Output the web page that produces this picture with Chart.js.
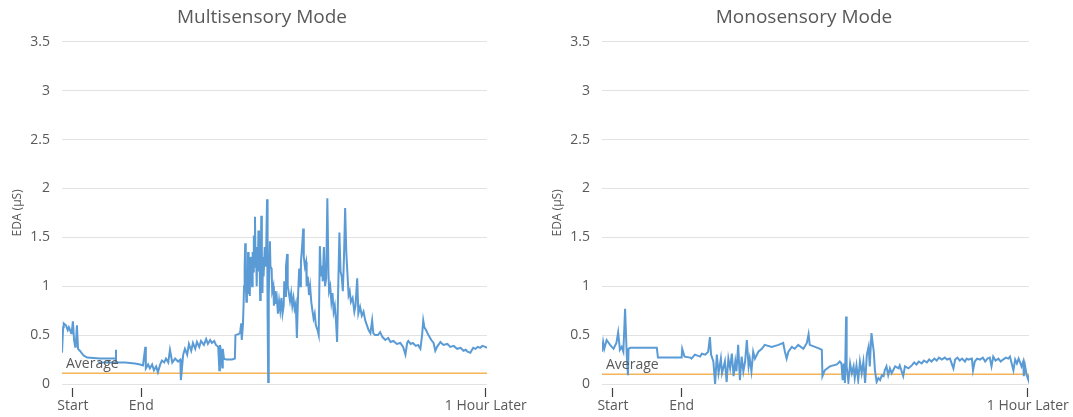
<!DOCTYPE html>
<html>
<head>
<meta charset="utf-8">
<script src="https://cdn.jsdelivr.net/npm/chart.js@4.4.1/dist/chart.umd.min.js"></script>
<style>
  html, body { margin: 0; padding: 0; background: #fff; }
  #wrap { position: relative; width: 1073px; height: 417px; }
  .box { position: absolute; top: 0; height: 417px; }
  #boxMulti { left: 0; width: 536px; }
  #boxMono { left: 536px; width: 537px; }
</style>
</head>
<body>
<div id="wrap">
  <div class="box" id="boxMulti"><canvas id="graficoMulti"></canvas></div>
  <div class="box" id="boxMono"><canvas id="graficoMono"></canvas></div>
</div>
<script>
// tempo em minutos desde o inicio da gravação
const tempoMulti = [
  0, 0.2, 0.3, 0.7, 1.0, 1.2, 1.6, 1.7, 1.9, 2.1,
  2.3, 2.4, 2.6, 2.8, 3.1, 3.5, 3.8, 4.4, 6.6, 8.9,
  9.4, 9.4, 9.4, 6.3, 11.0, 12.7, 13.6, 14.1, 14.5, 14.6,
  15.0, 15.3, 15.7, 16.0, 16.4, 16.7, 17.1, 17.4, 17.8, 18.1,
  18.5, 18.8, 19.2, 19.7, 20.2, 20.6, 20.7, 21.1, 21.4, 21.8,
  22.1, 22.5, 22.8, 23.2, 23.5, 23.9, 24.2, 24.7, 25.1, 25.4,
  25.8, 26.1, 26.5, 26.8, 27.2, 27.4, 27.5, 27.7, 27.9, 28.0,
  28.2, 28.6, 29.6, 30.1, 30.2, 30.7,
  31.0, 31.2, 31.3, 31.5, 31.6, 31.7, 31.8, 31.9, 32.0, 32.1,
  32.2, 32.3, 32.4, 32.5, 32.6, 32.7, 32.8, 32.9, 33.0, 33.1,
  33.2, 33.3, 33.4, 33.5, 33.6, 33.7, 33.8, 33.9, 34.0, 34.1,
  34.2, 34.3, 34.4, 34.5, 34.6, 34.7, 34.8, 34.9, 35.0, 35.1,
  35.3, 35.5, 35.7, 35.8, 35.9, 36.0, 36.2, 36.3, 36.5, 36.6,
  36.8, 36.9, 37.1, 37.2, 37.4, 37.6, 37.8, 38.0, 38.2, 38.4,
  38.6, 38.7, 38.9, 39.0, 39.2, 39.3, 39.5, 39.7, 39.9, 40.1,
  40.3, 40.5, 40.7, 40.9, 41.1, 41.3, 41.5, 41.6, 41.8, 42.0,
  42.1, 42.3, 42.5, 42.6, 42.8, 43.0, 43.2, 43.4, 43.6, 43.8,
  44.0, 44.2, 44.5, 44.7, 44.9, 45.1, 45.3, 45.4, 45.6, 45.8,
  46.0, 46.2, 46.4, 46.5, 46.7, 46.9, 47.1, 47.3, 47.5, 47.7,
  47.9, 48.1, 48.3, 48.5, 48.7, 48.9, 49.1, 49.3, 49.5, 49.7,
  49.9, 50.1, 50.3, 50.6, 50.9, 51.1, 51.4, 51.6, 51.9, 52.2,
  52.5, 52.8, 53.1, 53.4, 53.7, 54.0, 54.2, 54.5,
  55.0, 55.4, 55.8, 56.3, 56.8, 57.2, 57.7, 58.3, 58.9, 59.4,
  59.8, 60.1, 60.3, 60.7, 61.1, 61.6, 62.0, 62.4, 62.7, 62.9,
  63.1, 63.4, 63.8, 64.3, 64.7, 65.0, 65.3, 65.9, 66.4, 67.1,
  67.6, 68.2, 68.8, 69.4, 69.9, 70.3, 70.6, 71.1, 71.4, 71.6,
  72.0, 72.4, 72.8, 73.2, 73.7, 74.0];
const edaMulti = [
  0.32, 0.58, 0.62, 0.6, 0.55, 0.58, 0.52, 0.54, 0.64, 0.45,
  0.38, 0.4, 0.6, 0.36, 0.34, 0.31, 0.29, 0.27, 0.26, 0.26,
  0.26, 0.35, 0.22, 0.22, 0.22, 0.21, 0.2, 0.19, 0.38, 0.16,
  0.2, 0.16, 0.2, 0.14, 0.18, 0.12, 0.2, 0.24, 0.22, 0.26,
  0.22, 0.35, 0.22, 0.26, 0.23, 0.25, 0.04, 0.3, 0.36, 0.3,
  0.41, 0.34, 0.42, 0.36, 0.43, 0.38, 0.44, 0.4, 0.46, 0.41,
  0.45, 0.42, 0.44, 0.4, 0.38, 0.14, 0.4, 0.33, 0.17, 0.36,
  0.26, 0.25, 0.25, 0.26, 0.5, 0.51,
  0.52, 0.62, 0.45, 0.6, 0.78, 1.0, 1.2, 1.44, 1.05, 0.84,
  1.1, 0.95, 1.35, 0.92, 1.25, 0.9, 1.3, 1.05, 1.2, 1.0,
  1.35, 1.15, 1.52, 1.2, 1.71, 1.25, 1.35, 1.0, 1.4, 1.15,
  1.57, 1.2, 1.3, 0.86, 1.25, 1.72, 1.1, 0.93, 1.3, 1.1,
  1.4, 1.2, 1.89, 0.7, 0.02, 0.9, 1.46, 1.2, 1.18, 0.95,
  1.0, 0.8, 0.95, 0.82, 0.88, 0.72, 0.85, 0.75, 0.88, 0.72,
  0.8, 1.05, 0.9, 1.2, 1.33, 1.0, 0.93, 0.85, 0.93, 0.8,
  0.88, 0.77, 0.82, 0.47, 0.9, 1.18, 1.0, 1.25, 1.4, 1.59,
  1.3, 1.2, 1.25, 1.0, 1.1, 0.91, 1.0, 0.84, 0.75, 0.67,
  0.72, 0.6, 0.55, 0.5, 1.41, 1.1, 1.21, 1.05, 1.4, 1.0,
  1.08, 1.9, 1.13, 0.95, 1.0, 0.84, 0.93, 0.74, 0.8, 0.65,
  0.43, 1.0, 1.55, 1.15, 1.1, 0.95, 1.3, 1.8, 1.35, 1.13,
  0.91, 0.95, 0.84, 0.88, 0.74, 0.8, 1.08, 0.72, 0.79, 0.7,
  0.74, 0.65, 0.6, 0.55, 0.52, 0.65, 0.52, 0.5,
  0.5, 0.53, 0.48, 0.45, 0.47, 0.43, 0.44, 0.41, 0.42, 0.38,
  0.3, 0.42, 0.44, 0.41, 0.42, 0.39, 0.4, 0.36, 0.5, 0.65,
  0.58, 0.55, 0.5, 0.45, 0.42, 0.34, 0.38, 0.43, 0.4, 0.41,
  0.38, 0.39, 0.36, 0.37, 0.34, 0.35, 0.33, 0.32, 0.35, 0.37,
  0.36, 0.38, 0.37, 0.39, 0.38, 0.37];

const tempoMono = [
  0, 0.2, 0.4, 0.8, 1.4, 2.0, 2.5, 2.8, 3.1, 3.4,
  3.7, 4.0, 4.3, 4.5, 4.6, 4.9, 9.5, 9.7, 13.8, 13.9,
  14.3, 15.3, 15.5, 16.1, 17.0, 17.3, 17.9, 18.4, 18.7, 18.9,
  19.3, 19.6, 19.9, 20.2, 20.6, 20.8, 21.3, 21.6, 21.9, 22.2,
  22.5, 22.8, 23.1, 23.3, 23.6, 23.9, 24.2, 24.5, 24.8, 25.1,
  25.4, 25.6, 25.9, 26.2, 26.5, 27.1, 27.7, 28.2, 29.4, 30.6,
  31.4, 31.7, 32.0, 32.3, 32.9, 33.4, 34.0, 34.9, 35.5, 35.8,
  36.0, 36.9, 37.8, 38.1, 38.2, 38.6, 39.5, 40.7, 41.2, 41.5,
  41.7, 41.9, 42.1, 42.3, 42.4, 42.7, 43.0, 43.3, 43.6, 43.8,
  44.1, 44.4, 44.7, 45.0, 45.3, 45.6, 45.9, 46.2, 46.4, 46.7,
  46.9, 47.1, 47.3, 47.6, 47.9, 48.2, 48.5, 48.8, 49.0, 49.3,
  49.6, 49.9, 50.2, 50.8, 51.4, 51.6, 52.2, 52.5, 53.1, 53.7,
  54.1, 54.5, 54.9, 55.4, 55.8, 56.3, 56.7, 57.1, 57.6, 58.0,
  58.4, 58.9, 59.4, 59.8, 60.3, 60.9, 61.2, 61.6, 62.0, 62.4,
  62.9, 63.2, 63.5, 64.1, 64.3, 64.6, 65.0, 65.5, 66.0, 66.4,
  66.8, 67.2, 67.5, 67.8, 68.2, 68.7, 69.1, 69.5, 70.0, 70.4,
  70.7, 71.0, 71.3, 71.6, 71.9, 72.2, 72.4, 72.7, 73.0, 73.1,
  73.3, 73.6, 73.9, 74.0];
const edaMono = [
  0.33, 0.43, 0.36, 0.45, 0.4, 0.36, 0.42, 0.53, 0.35, 0.38,
  0.33, 0.77, 0.28, 0.09, 0.36, 0.37, 0.37, 0.27, 0.27, 0.36,
  0.28, 0.27, 0.26, 0.3, 0.28, 0.31, 0.3, 0.33, 0.48, 0.3,
  0.23, 0.0, 0.3, 0.11, 0.26, 0.11, 0.23, 0.02, 0.26, 0.16,
  0.31, 0.08, 0.23, 0.13, 0.4, 0.04, 0.28, 0.13, 0.23, 0.45,
  0.18, 0.26, 0.13, 0.33, 0.26, 0.33, 0.36, 0.4, 0.38, 0.4,
  0.42, 0.33, 0.26, 0.33, 0.38, 0.36, 0.4, 0.36, 0.42, 0.51,
  0.4, 0.38, 0.36, 0.35, 0.08, 0.14, 0.18, 0.2, 0.23, 0.21,
  0.04, 0.21, 0.01, 0.69, 0.18, 0.02, 0.21, 0.11, 0.18, 0.06,
  0.19, 0.04, 0.23, 0.11, 0.23, 0.01, 0.3, 0.38, 0.18, 0.52,
  0.42, 0.33, 0.14, 0.02, 0.06, 0.04, 0.09, 0.08, 0.14, 0.18,
  0.09, 0.16, 0.11, 0.18, 0.16, 0.19, 0.08, 0.18, 0.16, 0.19,
  0.22, 0.2, 0.23, 0.21, 0.24, 0.22, 0.25, 0.23, 0.26, 0.24,
  0.27, 0.25, 0.27, 0.25, 0.26, 0.16, 0.25, 0.27, 0.24, 0.26,
  0.23, 0.26, 0.25, 0.26, 0.14, 0.23, 0.26, 0.25, 0.27, 0.23,
  0.26, 0.27, 0.18, 0.28, 0.24, 0.26, 0.23, 0.25, 0.27, 0.26,
  0.28, 0.21, 0.14, 0.25, 0.21, 0.26, 0.23, 0.18, 0.23, 0.08,
  0.19, 0.09, 0.04, 0.09];

// media de cada modo
const mediaMulti = 0.11;
const mediaMono = 0.1;

// marcas do eixo x
const marcasTempo = [1.9, 13.8, 73.8];
const rotulosTempo = ["Start", "End", "1 Hour Later"];

const corTexto = "#595959";
Chart.defaults.font.family = "'Open Sans', sans-serif";

// escreve "Average" em cima da linha da media
const rotuloMedia = {
  id: "rotuloMedia",
  afterDatasetsDraw(chart, args, opts) {
    const { ctx, scales } = chart;
    const x = scales.x.getPixelForValue(scales.x.min) + 4;
    const y = scales.y.getPixelForValue(opts.valor);
    ctx.save();
    ctx.font = "14px 'Open Sans', sans-serif";
    ctx.fillStyle = corTexto;
    ctx.textBaseline = "alphabetic";
    ctx.fillText(opts.texto, x, y - 5);
    ctx.restore();
  },
};

function juntar(tempos, valores) {
  return tempos.map((t, i) => ({ x: t, y: valores[i] }));
}

function criarGrafico(id, titulo, tempos, valores, media, larguraEixo, folga, paddingDireita, paddingTitulo) {
  return new Chart(document.getElementById(id), {
    type: "line",
    data: {
      datasets: [
        {
          label: "EDA",
          data: juntar(tempos, valores),
          borderColor: "#5b9bd5",
          borderWidth: 2,
          pointRadius: 0,
          tension: 0,
        },
        {
          label: "Average",
          data: [{ x: 0, y: media }, { x: 74, y: media }],
          borderColor: "#f4b45a",
          borderWidth: 1.5,
          pointRadius: 0,
        },
      ],
    },
    options: {
      responsive: true,
      maintainAspectRatio: false,
      animation: false,
      events: [],
      layout: { padding: { left: 0, right: paddingDireita, top: 0, bottom: 0 } },
      plugins: {
        legend: { display: false },
        tooltip: { enabled: false },
        title: {
          display: true,
          text: titulo,
          color: corTexto,
          font: { size: 19, weight: "normal" },
          padding: { top: 6, bottom: 13 },
        },
        rotuloMedia: { valor: media, texto: "Average" },
      },
      scales: {
        x: {
          type: "linear",
          min: 0,
          max: 74,
          afterBuildTicks: (s) => { s.ticks = marcasTempo.map((v) => ({ value: v })); },
          afterFit: (s) => { s.height = 33; },
          ticks: {
            autoSkip: false,
            maxRotation: 0,
            padding: 1,
            color: corTexto,
            font: { size: 14 },
            callback: (v, i) => rotulosTempo[i],
          },
          grid: {
            drawOnChartArea: false,
            drawTicks: true,
            tickLength: 13,
            tickColor: "#404040",
            tickWidth: 1.2,
            tickBorderDash: [0, 4, 9, 100],
          },
          border: { display: false },
        },
        y: {
          min: 0,
          max: 3.5,
          ticks: {
            stepSize: 0.5,
            padding: 12,
            color: corTexto,
            font: { size: 14 },
            callback: (v) => String(v),
          },
          grid: { color: "#e2e2e2", drawTicks: false },
          border: { display: false },
          title: {
            display: true,
            text: "EDA (µS)",
            color: corTexto,
            font: { size: 12 },
            padding: { top: paddingTitulo, bottom: 0 },
          },
          afterFit: (s) => { s.width = larguraEixo; },
        },
        // eixo vazio so para reservar espaço na direita
        folga: {
          type: "linear",
          position: "right",
          ticks: { display: false },
          grid: { display: false },
          border: { display: false },
          afterFit: (s) => { s.width = folga; },
        },
      },
    },
    plugins: [rotuloMedia],
  });
}

const graficoMulti = criarGrafico("graficoMulti", "Multisensory Mode", tempoMulti, edaMulti, mediaMulti, 62, 37, 12, 10);
const graficoMono = criarGrafico("graficoMono", "Monosensory Mode", tempoMono, edaMono, mediaMono, 66, 43, 1, 14);
</script>
</body>
</html>
